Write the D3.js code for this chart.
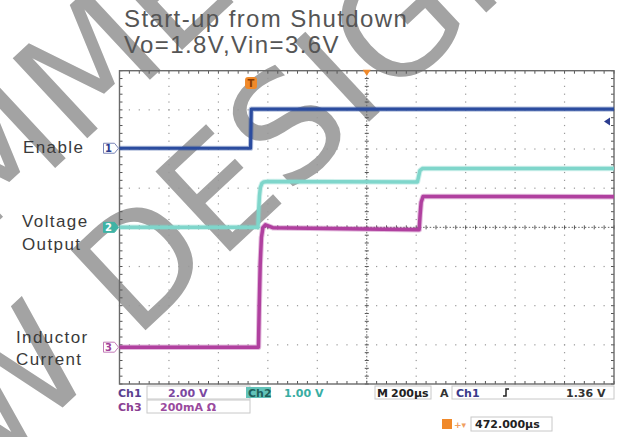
<!DOCTYPE html>
<html>
<head>
<meta charset="utf-8">
<title>Start-up from Shutdown</title>
<script src="https://cdn.jsdelivr.net/npm/d3@7"></script>
<style>
  body { margin: 0; background: #fff; }
  svg { display: block; }
  .title { font-family: "Liberation Sans", Arial, sans-serif; font-size: 24px; fill: #555; letter-spacing: 1.4px; }
  .lab { font-family: "Liberation Sans", Arial, sans-serif; font-size: 17px; fill: #3a3a3a; letter-spacing: 1.4px; }
  .stat { font-family: "DejaVu Sans", Verdana, sans-serif; font-size: 11px; font-weight: bold; }
  .wm { font-family: "DejaVu Sans", sans-serif; font-size: 150px; fill: #a3a3a3; }
</style>
</head>
<body>
<svg id="scope" width="620" height="437"></svg>
<script>
// scope settings
var timePerDiv = 200;   // µs
var ch1PerDiv = 2;      // V
var ch2PerDiv = 1;      // V
var ch3PerDiv = 200;    // mA
var ch1Offset = 2.02;   // ground marker position, divisions from centre
var ch2Offset = 0;
var ch3Offset = -3.06;

// traces (time in µs from left edge)
var enableT = [0, 530, 533, 2000];
var enableV = [0, 0, 2.0, 2.0];

var voutT = [0, 560, 563, 566, 570, 576, 584, 600, 1205, 1210, 1215, 1225, 2000];
var voutV = [0, 0, 0.45, 0.8, 1.02, 1.12, 1.16, 1.17, 1.16, 1.3, 1.45, 1.5, 1.5];

var ilT = [0, 562, 565, 569, 574, 580, 590, 620, 1212, 1216, 1220, 1228, 1245, 2000];
var ilmA = [0, 0, 200, 420, 560, 610, 625, 610, 600, 680, 740, 770, 770, 768];

var status1 = ["Ch1", "2.00 V", "Ch2", "1.00 V", "M", "200µs", "A", "Ch1", "1.36 V"];
var status2 = ["Ch3", "200mA Ω"];
var trigPos = "472.000µs";

var svg = d3.select("#scope");
var pL = 119.5, pR = 614, pT = 70.7, pB = 384;

var x = d3.scaleLinear().domain([0, 10 * timePerDiv]).range([pL, pR]);
var yDiv = d3.scaleLinear().domain([-4, 4]).range([pB, pT]);
var divW = (pR - pL) / 10, divH = (pB - pT) / 8;

// watermark
var wm = svg.append("g").attr("transform", "translate(-160,615) rotate(-43)");
wm.append("text").attr("class", "wm").attr("x", 0).attr("y", 0).text("NEW DESIGNS");
wm.append("text").attr("class", "wm").attr("x", -60).attr("y", -180).text("RECOMMENDED FOR");

// titles
svg.append("text").attr("class", "title").attr("x", 124).attr("y", 27).text("Start-up from Shutdown");
svg.append("text").attr("class", "title").attr("x", 124).attr("y", 53).text("Vo=1.8V,Vin=3.6V");

// grid
var grid = svg.append("g");
var dots = [];
for (var i = 1; i < 10; i++) {
  if (i == 5) continue;
  for (var k = 0; k <= 40; k++) dots.push([pL + i * divW, pT + k * divH / 5]);
}
for (var j = 1; j < 8; j++) {
  if (j == 4) continue;
  for (var k = 0; k <= 50; k++) dots.push([pL + k * divW / 5, pT + j * divH]);
}
grid.selectAll("rect.dot").data(dots).enter().append("rect")
  .attr("class", "dot")
  .attr("x", function(d) { return d[0] - 0.6; })
  .attr("y", function(d) { return d[1] - 0.6; })
  .attr("width", 1.2).attr("height", 1.2)
  .attr("fill", "#999");

// centre lines with ticks
var cx = x(5 * timePerDiv), cy = yDiv(0);
var ticks = [];
for (var k = 0; k <= 50; k++) {
  var xx = pL + k * divW / 5;
  ticks.push([xx, cy - 2, xx, cy + 2]);
  ticks.push([xx, pT, xx, pT + 3]);
  ticks.push([xx, pB - 3, xx, pB]);
}
for (var k = 0; k <= 40; k++) {
  var yy = pT + k * divH / 5;
  ticks.push([cx - 2, yy, cx + 2, yy]);
  ticks.push([pL, yy, pL + 3, yy]);
  ticks.push([pR - 3, yy, pR, yy]);
}
grid.selectAll("line.tick").data(ticks).enter().append("line")
  .attr("class", "tick")
  .attr("x1", function(d) { return d[0]; }).attr("y1", function(d) { return d[1]; })
  .attr("x2", function(d) { return d[2]; }).attr("y2", function(d) { return d[3]; })
  .attr("stroke", "#555").attr("stroke-width", 1);
grid.append("line").attr("x1", pL).attr("x2", pR).attr("y1", cy).attr("y2", cy)
  .attr("stroke", "#666").attr("stroke-width", 1).attr("stroke-dasharray", "1.5,1.8");
grid.append("line").attr("x1", cx).attr("x2", cx).attr("y1", pT).attr("y2", pB)
  .attr("stroke", "#666").attr("stroke-width", 1).attr("stroke-dasharray", "1.5,1.6");
grid.append("rect").attr("x", pL).attr("y", pT)
  .attr("width", pR - pL).attr("height", pB - pT)
  .attr("fill", "none").attr("stroke", "#6a6a6a").attr("stroke-width", 1.4);

// traces
function trace(ts, vs, perDiv, off, color, w) {
  var pts = ts.map(function(t, i) { return [x(t), yDiv(vs[i] / perDiv + off)]; });
  var line = d3.line();
  svg.append("path").attr("d", line(pts)).attr("fill", "none")
    .attr("stroke", color).attr("stroke-opacity", 0.35).attr("stroke-width", w + 2)
    .attr("stroke-linejoin", "round");
  svg.append("path").attr("d", line(pts)).attr("fill", "none")
    .attr("stroke", color).attr("stroke-width", w)
    .attr("stroke-linejoin", "round");
}
trace(voutT, voutV, ch2PerDiv, ch2Offset, "#7fd6cb", 3.5);
trace(ilT, ilmA, ch3PerDiv, ch3Offset, "#b0409f", 3.5);
trace(enableT, enableV, ch1PerDiv, ch1Offset, "#2b4c9f", 3.2);

// channel ground markers
function marker(label, off, stroke, fill, txt) {
  var yy = yDiv(off);
  var g = svg.append("g");
  g.append("path")
    .attr("d", "M" + (pL - 16) + "," + (yy - 5) + " L" + (pL - 5) + "," + (yy - 5) +
               " L" + (pL - 1) + "," + yy + " L" + (pL - 5) + "," + (yy + 5) +
               " L" + (pL - 16) + "," + (yy + 5) + " Z")
    .attr("fill", fill).attr("stroke", stroke).attr("stroke-width", 1);
  g.append("text").attr("x", pL - 11).attr("y", yy + 4)
    .attr("text-anchor", "middle")
    .style("font-family", "DejaVu Sans").style("font-size", "10px").style("font-weight", "bold")
    .style("fill", txt).text(label);
}
marker("1", ch1Offset, "#7a86b8", "#fff", "#2b3c8f");
marker("2", ch2Offset, "#3fb3a5", "#3fb3a5", "#fff");
marker("3", ch3Offset, "#c27ab8", "#fff", "#a0409a");

// trigger level arrow
var tl = yDiv(1.36 / ch1PerDiv + ch1Offset);
svg.append("path").attr("d", "M" + (pR - 10) + "," + tl + " l6,-4 l0,8 Z").attr("fill", "#2b3c8f");

// trigger point marker
var tx = x(532);
svg.append("rect").attr("x", tx - 6).attr("y", 77).attr("width", 12).attr("height", 12)
  .attr("rx", 3).attr("fill", "#f0892a");
svg.append("text").attr("x", tx).attr("y", 87).attr("text-anchor", "middle")
  .style("font-family", "DejaVu Sans").style("font-size", "10px").style("font-weight", "bold")
  .style("fill", "#8a3a00").text("T");
svg.append("path").attr("d", "M" + (cx - 4) + "," + (pT - 1) + " l8,0 l-4,6 Z").attr("fill", "#f0892a");

// side labels
svg.append("text").attr("class", "lab").attr("x", 23).attr("y", 153).text("Enable");
svg.append("text").attr("class", "lab").attr("x", 22).attr("y", 227).text("Voltage");
svg.append("text").attr("class", "lab").attr("x", 22).attr("y", 250).text("Output");
svg.append("text").attr("class", "lab").attr("x", 16).attr("y", 343).text("Inductor");
svg.append("text").attr("class", "lab").attr("x", 16).attr("y", 365).text("Current");

// status area
var st = svg.append("g").attr("class", "stat");
var boxes = [[147, 386, 103, 13], [147, 400, 103, 13], [375, 386, 56, 13], [452, 386, 162, 13], [471, 417, 81, 14]];
st.selectAll("rect.box").data(boxes).enter().append("rect")
  .attr("x", function(d) { return d[0]; }).attr("y", function(d) { return d[1]; })
  .attr("width", function(d) { return d[2]; }).attr("height", function(d) { return d[3]; })
  .attr("fill", "none").attr("stroke", "#c8c8c8").attr("stroke-width", 1);
st.append("rect").attr("x", 246).attr("y", 387).attr("width", 25).attr("height", 11).attr("fill", "#62c3b9");

var row1 = [[118, "#5a3f8f"], [168, "#7a47a0"], [248, "#1e5f5a"], [284, "#39ada3"],
            [377, "#222"], [391, "#222"], [440, "#333"], [456, "#3a3a8a"], [566, "#333"]];
st.selectAll("text.r1").data(status1).enter().append("text")
  .attr("class", "r1")
  .attr("x", function(d, i) { return row1[i][0]; }).attr("y", 397)
  .style("fill", function(d, i) { return row1[i][1]; })
  .text(function(d) { return d; });
st.append("path").attr("d", "M503,396 l3,0 l0,-7 l3,0").attr("fill", "none").attr("stroke", "#222").attr("stroke-width", 1.5);

var row2 = [[118, "#8a3e92"], [160, "#9a4a9e"]];
st.selectAll("text.r2").data(status2).enter().append("text")
  .attr("class", "r2")
  .attr("x", function(d, i) { return row2[i][0]; }).attr("y", 411)
  .style("fill", function(d, i) { return row2[i][1]; })
  .text(function(d) { return d; });

st.append("rect").attr("x", 442).attr("y", 419).attr("width", 10).attr("height", 10).attr("fill", "#f0892a");
st.append("text").attr("x", 454).attr("y", 428).style("fill", "#f0a060").style("font-size", "9px").text("+▾");
st.append("text").attr("x", 475).attr("y", 428).style("fill", "#222").text(trigPos);
</script>
</body>
</html>
